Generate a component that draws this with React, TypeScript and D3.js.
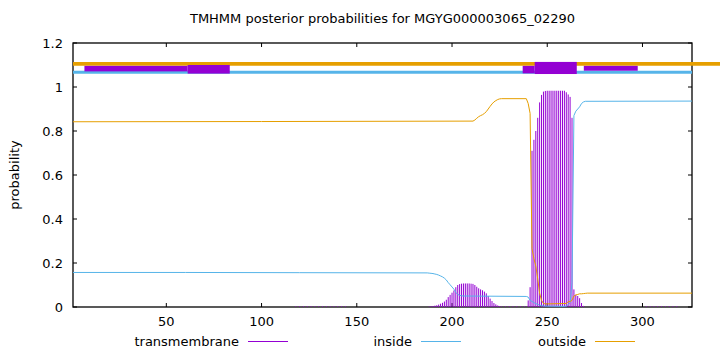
import React from 'react';
import * as d3 from 'd3';

const W = 720;
const H = 352;
const seqLength = 326;
const titleText = 'TMHMM posterior probabilities for MGYG000003065_02290';
const yLabelText = 'probability';
const xTicks = [50, 100, 150, 200, 250, 300];
const yTicks = [0, 0.2, 0.4, 0.6, 0.8, 1, 1.2];
const legendLabels = ['transmembrane', 'inside', 'outside'];

// posterior probability of "inside", [residue, probability]
const insideProb: [number, number][] = [
  [1, 0.157], [60, 0.157], [120, 0.156], [187, 0.155], [188, 0.154], [189, 0.153], [190, 0.152],
  [191, 0.15], [192, 0.148], [193, 0.145], [194, 0.141], [195, 0.137], [196, 0.131], [197, 0.123],
  [198, 0.111], [199, 0.101], [200, 0.091], [201, 0.081], [202, 0.066], [203, 0.057], [204, 0.053],
  [205, 0.051], [206, 0.05], [239, 0.048], [240, 0.045], [241, 0.03], [242, 0.025], [243, 0.02],
  [244, 0.015], [245, 0.012], [246, 0.008], [247, 0.006], [248, 0.005], [249, 0.004], [259, 0.003],
  [260, 0.004], [261, 0.01], [262, 0.02], [263, 0.11], [264, 0.87], [265, 0.89], [266, 0.9],
  [267, 0.91], [268, 0.925], [269, 0.932], [270, 0.935], [326, 0.936],
];

// posterior probability of "outside", [residue, probability]
const outsideProb: [number, number][] = [
  [1, 0.842], [100, 0.843], [211, 0.845], [212, 0.85], [213, 0.858], [214, 0.865], [215, 0.87],
  [216, 0.874], [217, 0.88], [218, 0.888], [219, 0.9], [220, 0.912], [221, 0.923], [222, 0.932],
  [223, 0.938], [224, 0.943], [225, 0.946], [226, 0.947], [239, 0.947], [240, 0.925], [241, 0.88],
  [242, 0.265], [243, 0.22], [244, 0.185], [245, 0.128], [246, 0.062], [247, 0.03], [248, 0.016],
  [249, 0.014], [260, 0.016], [261, 0.024], [262, 0.025], [263, 0.03], [264, 0.05], [265, 0.055],
  [266, 0.057], [267, 0.06], [268, 0.06], [269, 0.061], [270, 0.062], [271, 0.063], [326, 0.063],
];

// posterior probability of "transmembrane", [residue, probability] (non-zero residues)
const tmProb: [number, number][] = [
  [118, 0.003], [120, 0.003], [122, 0.003], [124, 0.003], [126, 0.003], [128, 0.003], [130, 0.003],
  [132, 0.003], [134, 0.003], [136, 0.003], [138, 0.003], [140, 0.003], [142, 0.003], [144, 0.003],
  [188, 0.002], [189, 0.003], [190, 0.004], [191, 0.006], [192, 0.008], [193, 0.011], [194, 0.015],
  [195, 0.019], [196, 0.025], [197, 0.033], [198, 0.045], [199, 0.055], [200, 0.065], [201, 0.075],
  [202, 0.09], [203, 0.1], [204, 0.104], [205, 0.106], [206, 0.107], [207, 0.107], [208, 0.107],
  [209, 0.107], [210, 0.106], [211, 0.105], [212, 0.1], [213, 0.092], [214, 0.085], [215, 0.08],
  [216, 0.076], [217, 0.07], [218, 0.062], [219, 0.05], [220, 0.038], [221, 0.027], [222, 0.018],
  [223, 0.012], [224, 0.007], [225, 0.004], [226, 0.002], [228, 0.003], [230, 0.003], [232, 0.003],
  [234, 0.003], [236, 0.003], [238, 0.003],
  [240, 0.03], [241, 0.09], [242, 0.71], [243, 0.76], [244, 0.8], [245, 0.86], [246, 0.93],
  [247, 0.964], [248, 0.979], [249, 0.982], [250, 0.983], [251, 0.983], [252, 0.983], [253, 0.983],
  [254, 0.983], [255, 0.983], [256, 0.983], [257, 0.983], [258, 0.983], [259, 0.983], [260, 0.976],
  [261, 0.966], [262, 0.955], [263, 0.86], [264, 0.08], [265, 0.055], [266, 0.05], [267, 0.04],
  [268, 0.018], [269, 0.005],
  [302, 0.003], [304, 0.003], [306, 0.003], [308, 0.003], [310, 0.003], [312, 0.003], [314, 0.003],
  [316, 0.003], [318, 0.003],
];

// predicted topology bars at the top
const topOutsideLevel = 1.105;
const topInsideLevel = 1.067;
// [from residue, to residue, low, high]
const tmSegments: [number, number, number, number][] = [
  [7, 61.2, 1.071, 1.096],
  [61.2, 83.3, 1.061, 1.1],
  [237.1, 243.4, 1.062, 1.096],
  [243.4, 265.5, 1.059, 1.114],
  [269.2, 297.5, 1.074, 1.096],
];

const C_TM = '#9400d3';
const C_IN = '#56b4e9';
const C_OUT = '#e69f00';
const FONT = 'DejaVu Sans';

export default function App() {
  const x = d3.scaleLinear().domain([1, seqLength]).range([73, 692]);
  const y = d3.scaleLinear().domain([0, 1.2]).range([307, 43]);
  const [x0, x1] = x.range();
  const [yb, yt] = y.range();
  const line = d3
    .line<[number, number]>()
    .x((d) => x(d[0]))
    .y((d) => y(d[1]));

  const legendItems = [
    { label: legendLabels[0], color: C_TM, textEnd: 239, lx: 248 },
    { label: legendLabels[1], color: C_IN, textEnd: 412, lx: 421 },
    { label: legendLabels[2], color: C_OUT, textEnd: 586, lx: 595 },
  ];

  return (
    <svg
      width={W}
      height={H}
      viewBox={`0 0 ${W} ${H}`}
      style={{ position: 'absolute', left: 0, top: 0, background: '#fff' }}
      fontFamily={FONT}
      fontSize={13}
    >
      <rect x={0} y={0} width={W} height={H} fill="#fff" />
      {/* frame */}
      <rect x={x0} y={yt} width={x1 - x0} height={yb - yt} fill="none" stroke="#000" strokeWidth={1.3} />
      {/* ticks */}
      {yTicks.map((t) => (
        <g key={'yt' + t}>
          <line x1={x0} x2={x0 + 4} y1={y(t)} y2={y(t)} stroke="#000" strokeWidth={1} />
          <line x1={x1} x2={x1 - 4} y1={y(t)} y2={y(t)} stroke="#000" strokeWidth={1} />
          <text x={63} y={y(t) + 5} textAnchor="end" fill="#000">
            {d3.format('~g')(t)}
          </text>
        </g>
      ))}
      {xTicks.map((t) => (
        <g key={'xt' + t}>
          <line x1={x(t)} x2={x(t)} y1={yb} y2={yb - 4} stroke="#000" strokeWidth={1} />
          <line x1={x(t)} x2={x(t)} y1={yt} y2={yt + 4} stroke="#000" strokeWidth={1} />
          <text x={x(t)} y={326} textAnchor="middle" fill="#000">
            {t}
          </text>
        </g>
      ))}
      {/* title and axis label */}
      <text x={(x0 + x1) / 2} y={23} textAnchor="middle" fill="#000">
        {titleText}
      </text>
      <text transform={`translate(19, ${(yt + yb) / 2}) rotate(-90)`} textAnchor="middle" fill="#000">
        {yLabelText}
      </text>

      {/* topology bars */}
      <line x1={x0} x2={W} y1={y(topOutsideLevel)} y2={y(topOutsideLevel)} stroke={C_OUT} strokeWidth={3.7} />
      <line x1={x0} x2={x1} y1={y(topInsideLevel)} y2={y(topInsideLevel)} stroke={C_IN} strokeWidth={3} />
      {tmSegments.map((s, i) => (
        <rect
          key={'seg' + i}
          x={x(s[0])}
          width={x(s[1]) - x(s[0])}
          y={y(s[3])}
          height={y(s[2]) - y(s[3])}
          fill={C_TM}
        />
      ))}

      {/* transmembrane impulses */}
      {tmProb.map((d) => (
        <line key={'tm' + d[0]} x1={x(d[0])} x2={x(d[0])} y1={y(0)} y2={y(d[1])} stroke={C_TM} strokeWidth={1} />
      ))}
      {/* inside / outside curves */}
      <path d={line(insideProb) || ''} fill="none" stroke={C_IN} strokeWidth={1} />
      <path d={line(outsideProb) || ''} fill="none" stroke={C_OUT} strokeWidth={1} />

      {/* legend */}
      {legendItems.map((it) => (
        <g key={it.label}>
          <text x={it.textEnd} y={346} textAnchor="end" fill="#000">
            {it.label}
          </text>
          <line x1={it.lx} x2={it.lx + 40} y1={341.5} y2={341.5} stroke={it.color} strokeWidth={1} />
        </g>
      ))}
    </svg>
  );
}
